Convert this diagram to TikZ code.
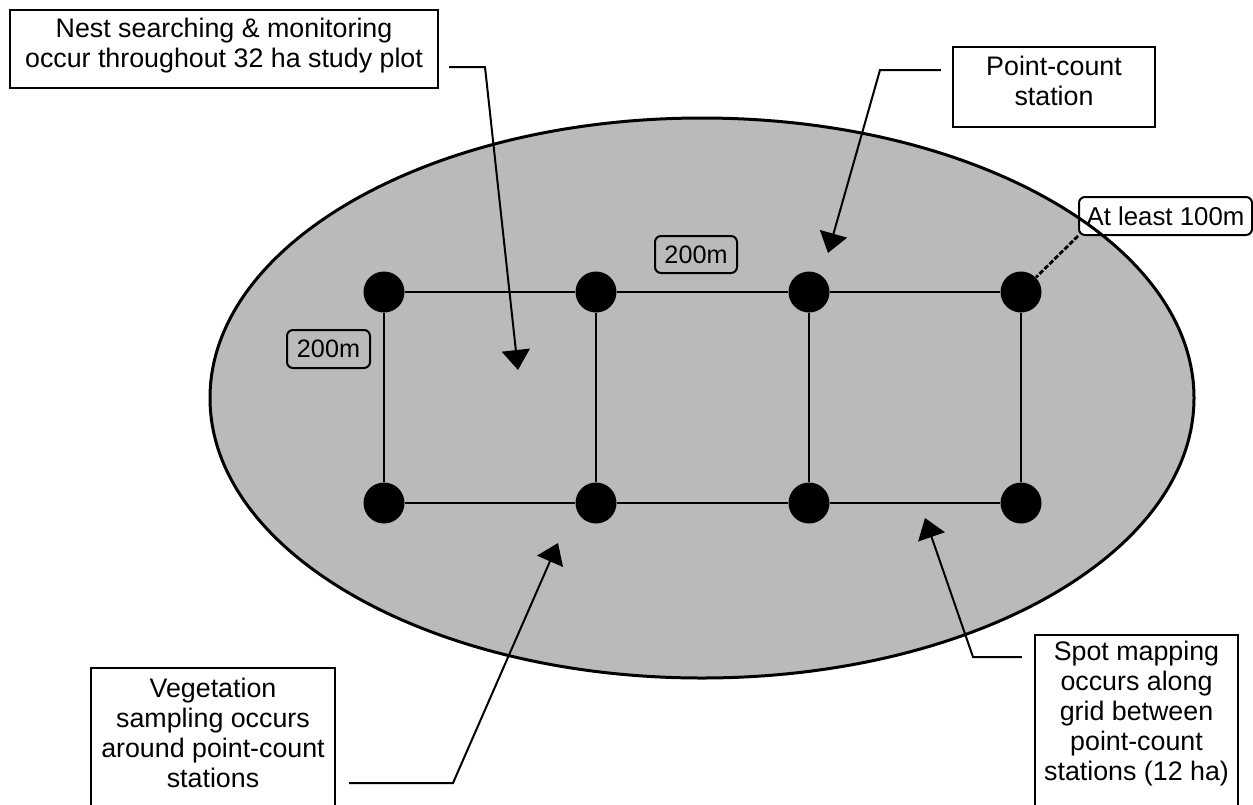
\documentclass[tikz,border=0pt]{standalone}
\usepackage{fontspec}
\setmainfont{Liberation Sans}
\usetikzlibrary{arrows.meta}
\begin{document}
\begin{tikzpicture}[x=0.5pt,y=-0.5pt,
  plotfill/.style={fill=black!27},
  plotedge/.style={line width=1.5pt},
  textbox/.style={draw=black, line width=1.1pt, fill=white, inner sep=0pt},
  txt/.style={font=\fontsize{13.4}{15}\selectfont, align=center, inner sep=0pt},
  tag/.style={draw=black, line width=1pt, rounded corners=3pt, inner sep=0pt, font=\fontsize{12.6}{14}\selectfont},
  station/.style={circle, fill=black, minimum size=20.5pt, inner sep=0pt},
  gridline/.style={line width=1pt},
  callout/.style={line width=1pt, -{Triangle[length=10pt,width=14pt]}},
  dashlink/.style={line width=1.4pt, dash pattern=on 2.5pt off 1pt},
]
\useasboundingbox (0,0) rectangle (1253,804);

% study plot
\fill[plotfill] (702,398) ellipse [x radius=246pt, y radius=140pt];

% point-count stations
\node[station] (s11) at (384,292) {};
\node[station] (s12) at (596,292) {};
\node[station] (s13) at (809,292) {};
\node[station] (s14) at (1021,292) {};
\node[station] (s21) at (384,503) {};
\node[station] (s22) at (596,503) {};
\node[station] (s23) at (809,503) {};
\node[station] (s24) at (1021,503) {};

\draw[gridline] (s11) -- (s12) -- (s13) -- (s14);
\draw[gridline] (s21) -- (s22) -- (s23) -- (s24);
\draw[gridline] (s11) -- (s21);
\draw[gridline] (s12) -- (s22);
\draw[gridline] (s13) -- (s23);
\draw[gridline] (s14) -- (s24);

% distance tags
\node[tag, minimum width=41pt, minimum height=18.5pt] (h200) at (696,254.5) {200m};
\node[tag, minimum width=41.5pt, minimum height=19pt] (v200) at (328.5,349) {200m};
\node[tag, fill=white, minimum width=86.5pt, minimum height=19pt,
      font=\fontsize{12.9}{14}\selectfont] (least) at (1165.5,216) {At least 100m};

% ellipse outline on top
\draw[plotedge] (702,398) ellipse [x radius=246pt, y radius=140pt];

\draw[dashlink] (least.south west) -- (s14);

% text boxes
\node[textbox, minimum width=214pt, minimum height=39pt] (nestbox) at (224,49) {};
\node[txt] (nest) at (224,45.5) {Nest searching \& monitoring\\occur throughout 32 ha study plot};

\node[textbox, minimum width=101pt, minimum height=40pt] (pcbox) at (1054,87) {};
\node[txt] (pc) at (1054,81) {Point-count\\station};

\node[textbox, minimum width=122pt, minimum height=69pt] (vegbox) at (213,737) {};
\node[txt] (veg) at (213,732.7) {Vegetation\\sampling occurs\\around point-count\\stations};

\node[textbox, minimum width=101.5pt, minimum height=90pt] (spotbox) at (1136.5,725) {};
\node[txt] (spot) at (1136.5,714) {Spot mapping\\occurs along\\grid between\\point-count\\stations (12 ha)};

% callouts
\coordinate (nestbend) at (485,67);
\coordinate (nesttip) at (518,370);
\draw[callout] ([xshift=5pt]nestbox.east |- nestbend) -- (nestbend) -- (nesttip);

\coordinate (pcbend) at (880,70);
\coordinate (pctip) at (828,253);
\draw[callout] ([xshift=-5.5pt]pcbox.west |- pcbend) -- (pcbend) -- (pctip);

\coordinate (vegbend) at (453,783);
\coordinate (vegtip) at (558,543);
\draw[callout] ([xshift=6.5pt]vegbox.east |- vegbend) -- (vegbend) -- (vegtip);

\coordinate (spotbend) at (973,657);
\coordinate (spottip) at (925,518);
\draw[callout] ([xshift=-6pt]spotbox.west |- spotbend) -- (spotbend) -- (spottip);
\end{tikzpicture}
\end{document}
